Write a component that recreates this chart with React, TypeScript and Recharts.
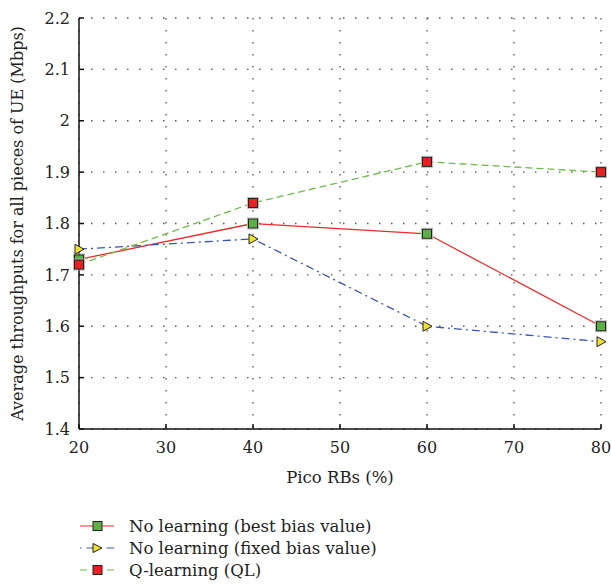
import React from 'react';
import { LineChart, Line, XAxis, YAxis, CartesianGrid } from 'recharts';

const picoRBs = [20, 40, 60, 80];
const bestBias = [1.73, 1.8, 1.78, 1.6];
const fixedBias = [1.75, 1.77, 1.6, 1.57];
const qLearning = [1.72, 1.84, 1.92, 1.9];

const xTicks = [20, 30, 40, 50, 60, 70, 80];
const yTicks = [1.4, 1.5, 1.6, 1.7, 1.8, 1.9, 2, 2.1, 2.2];

const seriesNames = ['No learning (best bias value)', 'No learning (fixed bias value)', 'Q-learning (QL)'];

const FONT = '"DejaVu Serif", serif';
const FS = 16;
const RED = '#ee2a2a';
const BLUE = '#3a56b0';
const GREEN = '#6cbd48';

const data = picoRBs.map((x, i) => ({
  x,
  best: bestBias[i],
  fixed: fixedBias[i],
  ql: qLearning[i],
}));

const squareDot = (fill: string) => (props: any) => {
  const { cx, cy, index } = props;
  if (cx == null || cy == null) return <g key={index} />;
  return (
    <g key={index}>
      <rect x={cx - 5.5} y={cy - 5.5} width={11} height={11} fill="none" stroke="#bbb" strokeWidth={1} />
      <rect x={cx - 4.5} y={cy - 4.5} width={9} height={9} fill={fill} stroke="#222" strokeWidth={1} />
    </g>
  );
};

const triangleDot = (props: any) => {
  const { cx, cy, index } = props;
  if (cx == null || cy == null) return <g key={index} />;
  return (
    <polygon
      key={index}
      points={`${cx - 4},${cy - 5} ${cx + 5},${cy} ${cx - 4},${cy + 5}`}
      fill="#f2e32a"
      stroke="#222"
      strokeWidth={1}
    />
  );
};

const LegendRow = ({ idx, top }: { idx: number; top: number }) => {
  let sample: React.ReactNode = null;
  if (idx === 0) {
    sample = (
      <>
        <line x1={0} y1={6} x2={34} y2={6} stroke={RED} strokeWidth={1.2} />
        <rect x={13} y={1.5} width={9} height={9} fill="#5db043" stroke="#222" />
      </>
    );
  } else if (idx === 1) {
    sample = (
      <>
        <line x1={0} y1={6} x2={34} y2={6} stroke={BLUE} strokeWidth={1.2} strokeDasharray="1.5 5 8 12 8" />
        <polygon points="13,1.5 22,6 13,10.5" fill="#f2e32a" stroke="#222" />
      </>
    );
  } else {
    sample = (
      <>
        <line x1={0} y1={6} x2={34} y2={6} stroke={GREEN} strokeWidth={1.2} strokeDasharray="7 20 7" />
        <rect x={13} y={1.5} width={9} height={9} fill="#e82020" stroke="#222" />
      </>
    );
  }
  return (
    <div style={{ position: 'absolute', left: 80, top, height: 22, display: 'flex', alignItems: 'center' }}>
      <svg width={36} height={12} style={{ display: 'block' }}>
        {sample}
      </svg>
      <span style={{ marginLeft: 13, fontFamily: FONT, fontSize: 16.5, color: '#222', whiteSpace: 'nowrap' }}>
        {seriesNames[idx]}
      </span>
    </div>
  );
};

export default function App() {
  const tickStyle = { fontFamily: FONT, fontSize: FS, fill: '#222' };
  return (
    <div style={{ position: 'absolute', left: 0, top: 0, width: 611, height: 586, background: '#fff' }}>
      <LineChart width={611} height={586} data={data} margin={{ top: 18, right: 10, bottom: 97, left: 12 }}>
        <CartesianGrid
          stroke="#555"
          strokeWidth={1.3}
          strokeDasharray="1.5 10.5"
          verticalPoints={[]}
          horizontalPoints={[]}
          horizontalValues={yTicks}
          verticalValues={xTicks}
        />
        <XAxis
          dataKey="x"
          type="number"
          domain={[20, 80]}
          ticks={xTicks}
          height={60}
          stroke="#111"
          strokeWidth={1.5}
          tickSize={-5}
          tickMargin={18}
          tick={tickStyle}
          label={{ value: 'Pico RBs (%)', position: 'insideBottom', offset: 6, style: { fontFamily: FONT, fontSize: 16.5, fill: '#222' } }}
        />
        <XAxis
          xAxisId="top"
          dataKey="x"
          type="number"
          orientation="top"
          domain={[20, 80]}
          ticks={xTicks}
          height={0}
          stroke="#111"
          strokeWidth={1.5}
          tickSize={-5}
          tick={false}
        />
        <YAxis
          type="number"
          domain={[1.4, 2.2]}
          ticks={yTicks}
          width={67}
          stroke="#111"
          strokeWidth={1.5}
          tickSize={-5}
          tickMargin={14}
          tick={tickStyle}
          tickFormatter={(v: number) => String(v)}
          label={{
            value: 'Average throughputs for all pieces of UE (Mbps)',
            angle: -90,
            position: 'insideLeft',
            offset: 5,
            style: { textAnchor: 'middle', fontFamily: FONT, fontSize: FS, fill: '#222' },
          }}
        />
        <YAxis
          yAxisId="right"
          type="number"
          orientation="right"
          domain={[1.4, 2.2]}
          ticks={yTicks}
          width={0}
          stroke="#111"
          strokeWidth={1.5}
          tickSize={-5}
          tick={false}
        />
        <Line
          dataKey="best"
          stroke={RED}
          strokeWidth={1.3}
          dot={squareDot('#5db043')}
          isAnimationActive={false}
        />
        <Line
          dataKey="fixed"
          stroke={BLUE}
          strokeWidth={1.3}
          strokeDasharray="8 4 2 4"
          dot={triangleDot}
          isAnimationActive={false}
        />
        <Line
          dataKey="ql"
          stroke={GREEN}
          strokeWidth={1.3}
          strokeDasharray="7 4"
          dot={squareDot('#e82020')}
          isAnimationActive={false}
        />
      </LineChart>
      <LegendRow idx={0} top={515} />
      <LegendRow idx={1} top={537} />
      <LegendRow idx={2} top={559} />
    </div>
  );
}
